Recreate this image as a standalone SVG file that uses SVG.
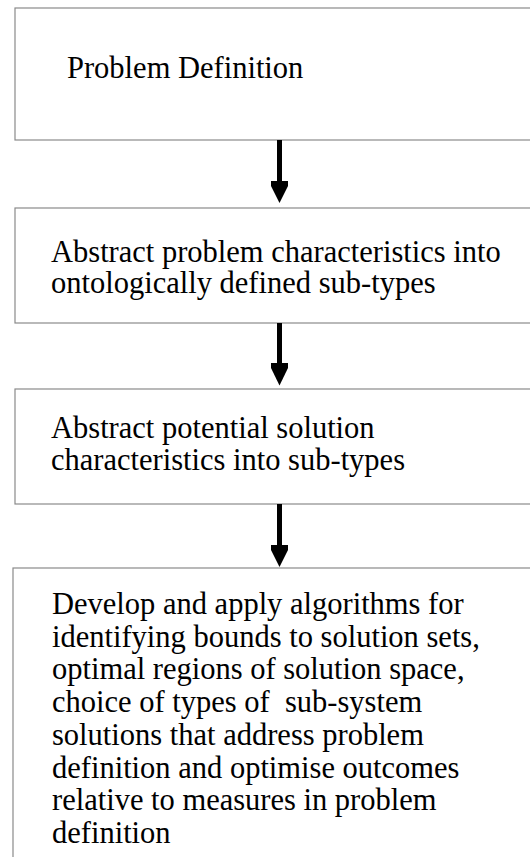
<svg xmlns="http://www.w3.org/2000/svg" width="530" height="857" viewBox="0 0 530 857">
<style>
.box{fill:#fff;stroke:#8a8a8a;stroke-width:1.2}
.t{font-family:"Liberation Serif","Times New Roman","DejaVu Serif",serif;font-size:30.5px;fill:#000;white-space:pre}
.shaft{stroke:#000;stroke-width:5;fill:none}
.head{fill:#000}
</style>
<rect width="530" height="857" fill="#fff"/>
<g id="node1"><rect class="box" x="15" y="8" width="600" height="132"/><text class="t" x="67" y="78">Problem Definition</text></g>
<g id="node2"><rect class="box" x="15" y="208" width="600" height="115"/><text class="t"><tspan x="51" y="262">Abstract problem characteristics into</tspan><tspan x="51" y="293">ontologically defined sub-types</tspan></text></g>
<g id="node3"><rect class="box" x="15" y="389" width="600" height="115"/><text class="t"><tspan x="51" y="437.5">Abstract potential solution</tspan><tspan x="51" y="470">characteristics into sub-types</tspan></text></g>
<g id="node4"><rect class="box" x="13" y="568" width="600" height="320"/><text class="t"><tspan x="52" y="614">Develop and apply algorithms for</tspan><tspan x="52" y="646.7">identifying bounds to solution sets,</tspan><tspan x="52" y="679.4">optimal regions of solution space,</tspan><tspan x="52" y="712">choice of types of&#160; sub-system</tspan><tspan x="52" y="744.8">solutions that address problem</tspan><tspan x="52" y="777.5">definition and optimise outcomes</tspan><tspan x="52" y="810">relative to measures in problem</tspan><tspan x="52" y="843">definition</tspan></text></g>
<g id="connectors">
<line class="shaft" x1="279.5" y1="140" x2="279.5" y2="184"/>
<polygon class="head" points="271,181 288,181 288,186 279.5,203 271,186"/>
<line class="shaft" x1="279.5" y1="323" x2="279.5" y2="365"/>
<polygon class="head" points="271,363 288,363 288,368 279.5,385.5 271,368"/>
<line class="shaft" x1="279.5" y1="504" x2="279.5" y2="547"/>
<polygon class="head" points="271,545 288,545 288,550 279.5,567 271,550"/>
</g>
</svg>
